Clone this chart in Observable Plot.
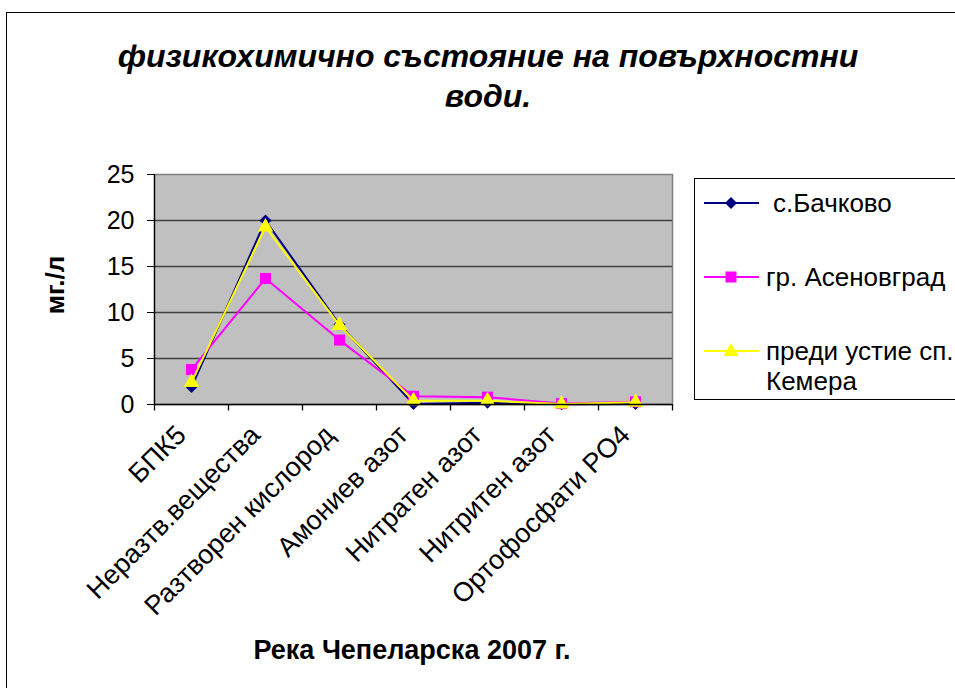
<!DOCTYPE html>
<html>
<head>
<meta charset="utf-8">
<script src="https://cdn.jsdelivr.net/npm/d3@7"></script>
<script src="https://cdn.jsdelivr.net/npm/@observablehq/plot@0.6"></script>
<style>
  html, body { margin: 0; padding: 0; background: #fff; }
  #wrap { position: relative; width: 955px; height: 688px; overflow: hidden; font-family: "Liberation Sans", Arial, sans-serif; color: #000; }
  #frame { position: absolute; left: 6px; top: 12px; width: 1200px; height: 1200px; border-left: 1.5px solid #000; border-top: 1.5px solid #000; }
  #chart { position: absolute; left: 0; top: 0; }
  #title { position: absolute; left: 0; top: 36px; width: 976px; text-align: center; font-weight: bold; font-style: italic; font-size: 32px; line-height: 40px; }
  #ytitle { position: absolute; left: 55px; top: 285px; transform: translate(-50%, -50%) rotate(-90deg); font-weight: bold; font-size: 26px; white-space: nowrap; }
  #xtitle { position: absolute; left: 412px; top: 650px; transform: translate(-50%, -50%); font-weight: bold; font-size: 27px; white-space: nowrap; }
  #legend { position: absolute; left: 694px; top: 178px; width: 290px; height: 220px; border: 1px solid #000; background: #fff; }
  .item { position: absolute; left: 0; height: 30px; }
  .item svg { position: absolute; left: 9px; }
  .item span { position: absolute; white-space: nowrap; font-size: 26px; line-height: 30px; }
</style>
</head>
<body>
<div id="wrap">
  <div id="frame"></div>
  <div id="chart"></div>
  <div id="title"></div>
  <div id="ytitle"></div>
  <div id="xtitle"></div>
  <div id="legend"></div>
</div>
<script>
const categories = ["БПК5", "Неразтв.вещества", "Разтворен кислород", "Амониев азот", "Нитратен азот", "Нитритен азот", "Ортофосфати PO4"];
const seriesNames = ["с.Бачково", "гр. Асеновград", "преди устие сп. Кемера"];
const bachkovo   = [1.9, 20.0, 8.7, 0.05, 0.2, 0.02, 0.05];
const asenovgrad = [3.8, 13.7, 7.0, 0.9, 0.8, 0.1, 0.3];
const kemera     = [2.4, 19.3, 8.6, 0.4, 0.4, 0.05, 0.25];
const yTicks = [0, 5, 10, 15, 20, 25];
const titleLines = ["физикохимично състояние на повърхностни", "води."];
const yLabel = "мг./л";
const xLabel = "Река Чепеларска 2007 г.";

const seriesValues = [bachkovo, asenovgrad, kemera];
const seriesStyle = [
  {color: "#000080", symbol: "diamond2", r: 5.4},
  {color: "#ff00ff", symbol: "square", r: 6.2},
  {color: "#ffff00", symbol: "triangle", r: 5.8}
];

const rows = seriesNames.map((s, si) => categories.map((c, ci) => ({series: s, category: c, value: seriesValues[si][ci]})));

const W = 955, H = 688, mL = 154, mR = 283, mT = 174, mB = 284;
const step = (W - mL - mR) / categories.length;

const seriesMarks = [];
rows.forEach((data, i) => {
  const st = seriesStyle[i];
  seriesMarks.push(Plot.line(data, {x: "category", y: "value", stroke: st.color, strokeWidth: 2}));
  seriesMarks.push(Plot.dot(data, {x: "category", y: "value", symbol: st.symbol, r: st.r, fill: st.color, stroke: "none"}));
});

const chart = Plot.plot({
  width: W, height: H,
  marginLeft: mL, marginRight: mR, marginTop: mT, marginBottom: mB,
  x: {type: "point", domain: categories, padding: 0.5, axis: null},
  y: {domain: [0, 25], axis: null},
  style: {fontFamily: "'Liberation Sans', Arial, sans-serif", fontSize: "25px", color: "#000", background: "transparent"},
  marks: [
    Plot.frame({fill: "#c0c0c0", stroke: "#808080", strokeWidth: 1.5}),
    Plot.ruleY(yTicks.filter(v => v > 0 && v < 25), {stroke: "#404040", strokeWidth: 1.3}),
    ...seriesMarks,
    Plot.ruleY([0], {stroke: "#000", strokeWidth: 1.3}),
    Plot.ruleX([categories[0]], {dx: -step / 2, y1: 0, y2: 25, stroke: "#000", strokeWidth: 1.3}),
    Plot.ruleX(categories, {dx: -step / 2, y1: 0, y2: -0.7, stroke: "#000", strokeWidth: 1.3}),
    Plot.ruleX([categories[categories.length - 1]], {dx: step / 2, y1: 0, y2: -0.7, stroke: "#000", strokeWidth: 1.3}),
    Plot.axisY(yTicks, {tickSize: 7, tickPadding: 13, fontSize: 25, label: null, stroke: "#000"}),
    Plot.axisX({tickSize: 0, tickRotate: -45, tickPadding: 26, dx: -10, fontSize: 27, label: null})
  ]
});
document.getElementById("chart").appendChild(chart);

document.getElementById("title").innerHTML = titleLines.join("<br>");
document.getElementById("ytitle").textContent = yLabel;
document.getElementById("xtitle").textContent = xLabel;

// legend
const legend = document.getElementById("legend");
const legendPos = [
  {cy: 24, textLeft: 78, lines: ["с.Бачково"]},
  {cy: 98, textLeft: 71, lines: ["гр. Асеновград"]},
  {cy: 172, textLeft: 71, lines: ["преди устие сп.", "Кемера"]}
];
const symbolPaths = {
  diamond2: "M0,-6L6,0L0,6L-6,0Z",
  square: "M-5.5,-5.5H5.5V5.5H-5.5Z",
  triangle: "M0,-8L7.5,5L-7.5,5Z"
};
seriesNames.forEach((name, i) => {
  const st = seriesStyle[i];
  const p = legendPos[i];
  const item = document.createElement("div");
  item.className = "item";
  item.style.top = (p.cy - 15) + "px";
  item.innerHTML = `<svg width="58" height="30" style="top:0"><line x1="0" x2="55" y1="15" y2="15" stroke="${st.color}" stroke-width="2"/><path transform="translate(27,15)" d="${symbolPaths[st.symbol]}" fill="${st.color}"/></svg>` +
    p.lines.map((l, k) => `<span style="left:${p.textLeft}px; top:${k * 30}px">${l}</span>`).join("");
  legend.appendChild(item);
});
</script>
</body>
</html>
